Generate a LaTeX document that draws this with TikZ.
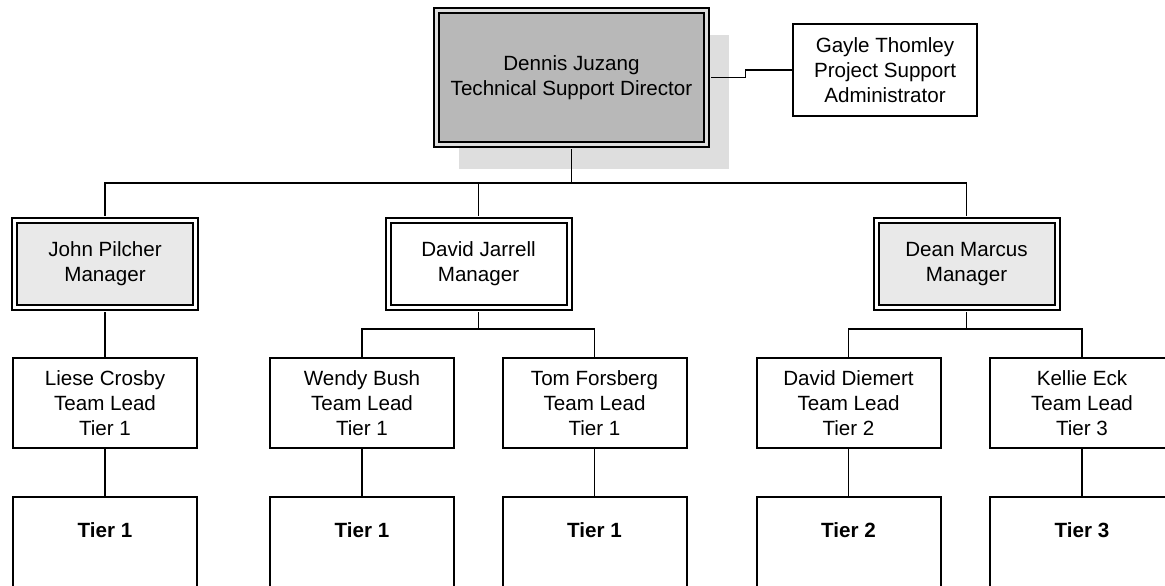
\documentclass[tikz,border=0pt]{standalone}
\usepackage{fontspec}
\setmainfont{Liberation Sans}
\usetikzlibrary{shadows}
\definecolor{dirgray}{RGB}{184,184,184}
\definecolor{shadegray}{RGB}{222,222,222}
\definecolor{mgrgray}{RGB}{233,233,233}

\begin{document}
\begin{tikzpicture}[x=0.5pt, y=-0.5pt,
    every node/.style={font=\fontsize{10.3}{12.4}\selectfont, align=center},
    dbox/.style={draw, line width=1pt, double=white, double distance=1.5pt},
    dirbox/.style={dbox, fill=dirgray, double=shadegray, minimum width=135pt, minimum height=67pt,
        drop shadow={shadow xshift=11pt, shadow yshift=-12pt, fill=shadegray, opacity=1}},
    mgrbox/.style={dbox, minimum width=90.5pt, minimum height=43.5pt},
    sbox/.style={draw, line width=1pt, fill=white, minimum width=92pt, minimum height=45pt, inner sep=2pt},
    tierbox/.style={draw, line width=1pt, fill=white, minimum width=92pt, anchor=north,
        inner ysep=4pt, text height=16pt, text depth=50pt, font=\fontsize{10.3}{12.4}\selectfont\bfseries},
    conn/.style={line width=0.8pt}]
    \useasboundingbox (0,0) rectangle (1165,585);
    \clip (0,0) rectangle (1165,585);

    % director and admin
    \node[dirbox] (dir) at (571.5,77.5) {Dennis Juzang\\Technical Support Director};
    \node[sbox, minimum height=46pt] (gayle) at (885,70) {Gayle Thomley\\Project Support\\Administrator};

    % managers
    \node[mgrbox, fill=mgrgray] (john) at (105,264) {John Pilcher\\Manager};
    \node[mgrbox, fill=white] (jarrell) at (478.5,264) {David Jarrell\\Manager};
    \node[mgrbox, fill=mgrgray] (dean) at (966.5,264) {Dean Marcus\\Manager};

    % team leads
    \node[sbox] (liese) at (105,403) {Liese Crosby\\Team Lead\\Tier 1};
    \node[sbox] (wendy) at (362,403) {Wendy Bush\\Team Lead\\Tier 1};
    \node[sbox] (tom) at (594.5,403) {Tom Forsberg\\Team Lead\\Tier 1};
    \node[sbox] (diemert) at (848.5,403) {David Diemert\\Team Lead\\Tier 2};
    \node[sbox] (kellie) at (1082,403) {Kellie Eck\\Team Lead\\Tier 3};

    % tiers
    \node[tierbox] (tierA) at (105,496) {Tier 1};
    \node[tierbox] (tierB) at (362,496) {Tier 1};
    \node[tierbox] (tierC) at (594.5,496) {Tier 1};
    \node[tierbox] (tierD) at (848.5,496) {Tier 2};
    \node[tierbox] (tierE) at (1082,496) {Tier 3};

    \draw[conn, shorten <=1.75pt] (dir.east) -- ++(38,0) |- (gayle.west);
    \draw[conn, shorten <=1.75pt] (dir.south) -- ++(0,37.5) coordinate (dirbus);
    \draw[conn, shorten >=1.75pt] (dirbus) -| (john.north);
    \draw[conn, shorten >=1.75pt] (dirbus) -| (jarrell.north);
    \draw[conn, shorten >=1.75pt] (dirbus) -| (dean.north);

    \draw[conn, shorten <=1.75pt] (john.south) -- (liese.north);
    \draw[conn, shorten <=1.75pt] (jarrell.south) -- ++(0,20.5) coordinate (jarbus);
    \draw[conn] (jarbus) -| (wendy.north);
    \draw[conn] (jarbus) -| (tom.north);
    \draw[conn, shorten <=1.75pt] (dean.south) -- ++(0,20.5) coordinate (deanbus);
    \draw[conn] (deanbus) -| (diemert.north);
    \draw[conn] (deanbus) -| (kellie.north);

    \draw[conn] (liese.south) -- (tierA.north);
    \draw[conn] (wendy.south) -- (tierB.north);
    \draw[conn] (tom.south) -- (tierC.north);
    \draw[conn] (diemert.south) -- (tierD.north);
    \draw[conn] (kellie.south) -- (tierE.north);
\end{tikzpicture}
\end{document}
